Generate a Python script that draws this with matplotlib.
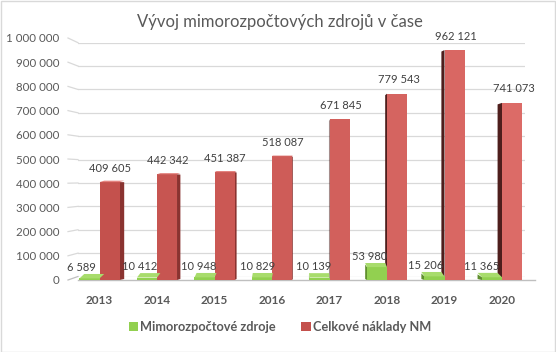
import numpy as np
import matplotlib
matplotlib.use('Agg')
import matplotlib.pyplot as plt
from matplotlib.patches import Polygon, Patch, Rectangle
from matplotlib.lines import Line2D
from matplotlib.transforms import IdentityTransform
from matplotlib.colors import to_rgb

# ---- data ----
years = ['2013', '2014', '2015', '2016', '2017', '2018', '2019', '2020']
mimo = [6589, 10412, 10948, 10829, 10139, 53980, 15206, 11365]
celk = [409605, 442342, 451387, 518087, 671845, 779543, 962121, 741073]
series_names = ['Mimorozpočtové zdroje', 'Celkové náklady NM']
y_ticks = [0, 100000, 200000, 300000, 400000, 500000, 600000, 700000, 800000, 900000, 1000000]
title = 'Vývoj mimorozpočtových zdrojů v čase'


def fmt(v):
    return f'{v:,}'.replace(',', ' ')


plt.rcParams['font.family'] = ['Lato', 'DejaVu Sans']

W, H = 556, 352
fig = plt.figure(figsize=(W / 100, H / 100), dpi=100)


def rect(l, r, top, bot):
    return [l / W, (H - bot) / H, (r - l) / W, (bot - top) / H]


XL = (-0.374, 7.4)
YL = (0, 1000000)

# back wall (gridlines), slightly smaller scale due to perspective
ax_back = fig.add_axes(rect(78, 525, 42.7, 276.5), zorder=0)
ax_back.set_xlim(*XL)
ax_back.set_ylim(*YL)
ax_back.set_yticks(y_ticks)
ax_back.yaxis.grid(True, color='#D9D9D9', lw=0.9)
ax_back.tick_params(length=0, labelleft=False, labelbottom=False)
for sp in ax_back.spines.values():
    sp.set_visible(False)

# front (bars)
ax = fig.add_axes(rect(78, 525, 41, 280), zorder=1)
ax.patch.set_visible(False)
ax.set_xlim(*XL)
ax.set_ylim(*YL)
for sp in ax.spines.values():
    sp.set_visible(False)

# label column
ax_lab = fig.add_axes(rect(59, 60, 38, 280), zorder=1)
ax_lab.patch.set_visible(False)
ax_lab.set_ylim(*YL)
ax_lab.set_yticks(y_ticks, [fmt(v) for v in y_ticks])
ax_lab.set_xticks([])
ax_lab.tick_params(axis='y', length=0, pad=0, labelsize=8.3, labelcolor='#595959')
for sp in ax_lab.spines.values():
    sp.set_visible(False)

x = np.arange(len(years))
off = 0.174
bw = 0.348
gx = x - off
rx = x + off

green_front, green_top, green_side = '#92D050', '#A8DC6C', '#5F8F2E'
red_top, red_side_r, red_side_l = '#E3837F', '#8A3330', '#4E1E1C'
c0, c1 = np.array(to_rgb('#C4514D')), np.array(to_rgb('#DC6B67'))
red_fronts = [tuple(c0 + (c1 - c0) * i / (len(years) - 1)) for i in range(len(years))]

ax.bar(gx, mimo, bw, color=green_front, zorder=3)
ax.bar(rx, celk, bw, color=red_fronts, zorder=3)


def add_3d(xc, v, i, top_c, side_c):
    (x0, y0) = ax.transData.transform((xc - bw / 2, 0))
    (x1, y1) = ax.transData.transform((xc + bw / 2, v))
    s = 1.3 * (3.6 - i)
    t = max(0.0, 4.5 * (1 - v / 600000))
    if s > 0:
        side = [(x1, y0), (x1, y1), (x1 + s, y1 - 1.5 + t), (x1 + s, y0 + 1)]
    else:
        side = [(x0, y0), (x0, y1), (x0 + s, y1 - 1.5 + t), (x0 + s, y0 + 1)]
    ax.add_patch(Polygon(side, closed=True, transform=IdentityTransform(),
                         facecolor=side_c, edgecolor='none', zorder=2.5))
    if t > 0:
        top = [(x0, y1), (x1, y1), (x1 + s, y1 + t), (x0 + s, y1 + t)]
        ax.add_patch(Polygon(top, closed=True, transform=IdentityTransform(),
                             facecolor=top_c, edgecolor='none', zorder=3.5))


for i in range(len(years)):
    add_3d(gx[i], mimo[i], i, green_top, green_side)
    add_3d(rx[i], celk[i], i, red_top,
           red_side_r if i < 3.6 else red_side_l)

# floor front edge
fx0, fy0 = ax.transData.transform((XL[0], 0))
fig.add_artist(Line2D([fx0, fx0 + 457], [fy0, fy0], transform=IdentityTransform(),
                      color='#BFBFBF', lw=1.0, zorder=0.5))

# slanted stubs from labels to back wall gridlines
for yt in y_ticks:
    _, yl = ax_lab.transData.transform((0, yt))
    xb, yb = ax_back.transData.transform((XL[0], yt))
    fig.add_artist(Line2D([xb - 10, xb], [yl, yb], transform=IdentityTransform(),
                          color='#BFBFBF' if yt == 0 else '#D9D9D9', lw=0.9, zorder=0.5))

# x labels
ax.set_xticks(x, years)
ax.tick_params(axis='x', length=0, pad=11, labelsize=8.5, labelcolor='#595959')
ax.tick_params(axis='y', length=0, labelleft=False)
ax.set_yticks([])
for lab in ax.get_xticklabels():
    lab.set_fontweight('bold')

# data labels
for i in range(len(years)):
    ax.annotate(fmt(celk[i]), xy=(rx[i], celk[i]), xytext=(0.3 * i * 0.72, 14 * 0.72),
                textcoords='offset points', ha='center', va='center',
                fontsize=8.0, color='#404040', zorder=5, annotation_clip=False)
    gdx = -4.5 - 1.4 * abs(i - 2.8)
    ax.annotate(fmt(mimo[i]), xy=(gx[i], mimo[i]), xytext=(gdx * 0.72, 11 * 0.72),
                textcoords='offset points', ha='center', va='center',
                fontsize=8.0, color='#404040', zorder=5, annotation_clip=False)

# title
fig.text(280 / W, 1 - 22 / H, title, ha='center', va='center',
         fontsize=12, color='#595959')

# legend
handles = [Patch(facecolor=green_front), Patch(facecolor=red_fronts[0])]
fig.legend(handles, series_names, loc='center', bbox_to_anchor=(280 / W, 25 / H),
           ncol=2, frameon=False, handlelength=0.72, handleheight=0.72,
           handletextpad=0.2, columnspacing=2.0,
           prop={'size': 9.2, 'weight': 'bold'}, labelcolor='#595959')

# chart border
fig.add_artist(Rectangle((0.5 / W, 0.5 / H), 1 - 1.5 / W, 1 - 1.5 / H,
                         transform=fig.transFigure, fill=False,
                         edgecolor='#D9D9D9', lw=1))

fig.savefig('out.png', dpi=100)
